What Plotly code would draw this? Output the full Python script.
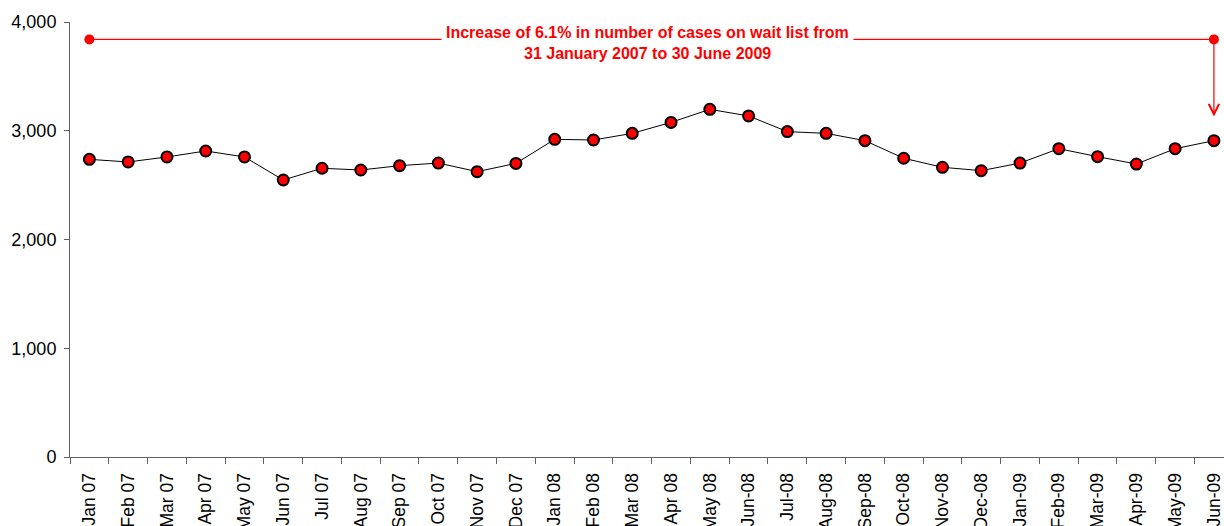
import plotly.graph_objects as go

months = ["Jan 07", "Feb 07", "Mar 07", "Apr 07", "May 07", "Jun 07", "Jul 07", "Aug 07",
          "Sep 07", "Oct 07", "Nov 07", "Dec 07", "Jan 08", "Feb 08", "Mar 08", "Apr 08",
          "May 08", "Jun-08", "Jul-08", "Aug-08", "Sep-08", "Oct-08", "Nov-08", "Dec-08",
          "Jan-09", "Feb-09", "Mar-09", "Apr-09", "May-09", "Jun-09"]
cases = [2737, 2713, 2759, 2814, 2759, 2547, 2655, 2639, 2679, 2703, 2624, 2700,
         2921, 2915, 2976, 3077, 3197, 3136, 2992, 2976, 2909, 2747, 2664, 2633,
         2703, 2835, 2762, 2694, 2835, 2909]
y_ticks = [0, 1000, 2000, 3000, 4000]
y_tick_text = ["0", "1,000", "2,000", "3,000", "4,000"]

bracket_level = 3840
arrow_tip = 3130
note_line1 = "Increase of 6.1% in number of cases on wait list from"
note_line2 = "31 January 2007 to 30 June 2009"

RED = "#ff0000"
FONT = "Liberation Sans, Arial, sans-serif"

fig = go.Figure()

# bracket line between first and last month
fig.add_trace(go.Scatter(
    x=[months[0], months[-1]], y=[bracket_level, bracket_level],
    mode="lines+markers",
    line=dict(color=RED, width=1.3),
    marker=dict(color=RED, size=10, line=dict(width=0)),
    hoverinfo="skip", showlegend=False, cliponaxis=False,
))

fig.add_trace(go.Scatter(
    x=months, y=cases, mode="lines+markers",
    line=dict(color="black", width=1),
    marker=dict(color=RED, size=11, line=dict(color="black", width=2)),
    showlegend=False, cliponaxis=False,
))

fig.add_annotation(
    x=months[-1], y=arrow_tip, ax=months[-1], ay=bracket_level,
    xref="x", yref="y", axref="x", ayref="y",
    text="", showarrow=True, arrowhead=5, arrowsize=1.7, arrowwidth=1.2,
    arrowcolor=RED, standoff=0, startstandoff=0,
)

fig.add_annotation(
    x=0.5, xref="paper", y=bracket_level, yref="y",
    text="<b>" + note_line1 + "</b>", showarrow=False,
    yshift=7, bgcolor="white", borderpad=4,
    font=dict(family=FONT, size=16, color=RED),
)
fig.add_annotation(
    x=0.5, xref="paper", y=bracket_level, yref="y",
    text="<b>" + note_line2 + "</b>", showarrow=False,
    yshift=-14,
    font=dict(family=FONT, size=16, color=RED),
)

fig.update_layout(
    width=1224, height=526,
    margin=dict(l=70, r=0, t=22, b=69),
    paper_bgcolor="white", plot_bgcolor="white",
    font=dict(family=FONT, color="black"),
)
fig.update_xaxes(
    type="category", categoryorder="array", categoryarray=months,
    range=[-0.5, 29.26], showgrid=False, zeroline=False,
    showline=True, linecolor="#606060", linewidth=1,
    ticks="outside", ticklen=6, tickcolor="#606060", tickson="boundaries",
    tickangle=-90, tickfont=dict(family=FONT, size=17.5, color="black"),
    ticklabelstandoff=8,
    automargin=False,
)
fig.update_yaxes(
    range=[0, 4000], tickvals=y_ticks, ticktext=y_tick_text,
    showgrid=False, zeroline=False,
    showline=True, linecolor="#606060", linewidth=1,
    ticks="outside", ticklen=5, tickcolor="#606060",
    tickfont=dict(family=FONT, size=18, color="black"),
    ticklabelstandoff=4,
    automargin=False,
)

fig.write_html(
    "out.html",
    config={"displayModeBar": False},
    post_script="document.body.style.margin='0';document.body.style.overflow='hidden';",
)
